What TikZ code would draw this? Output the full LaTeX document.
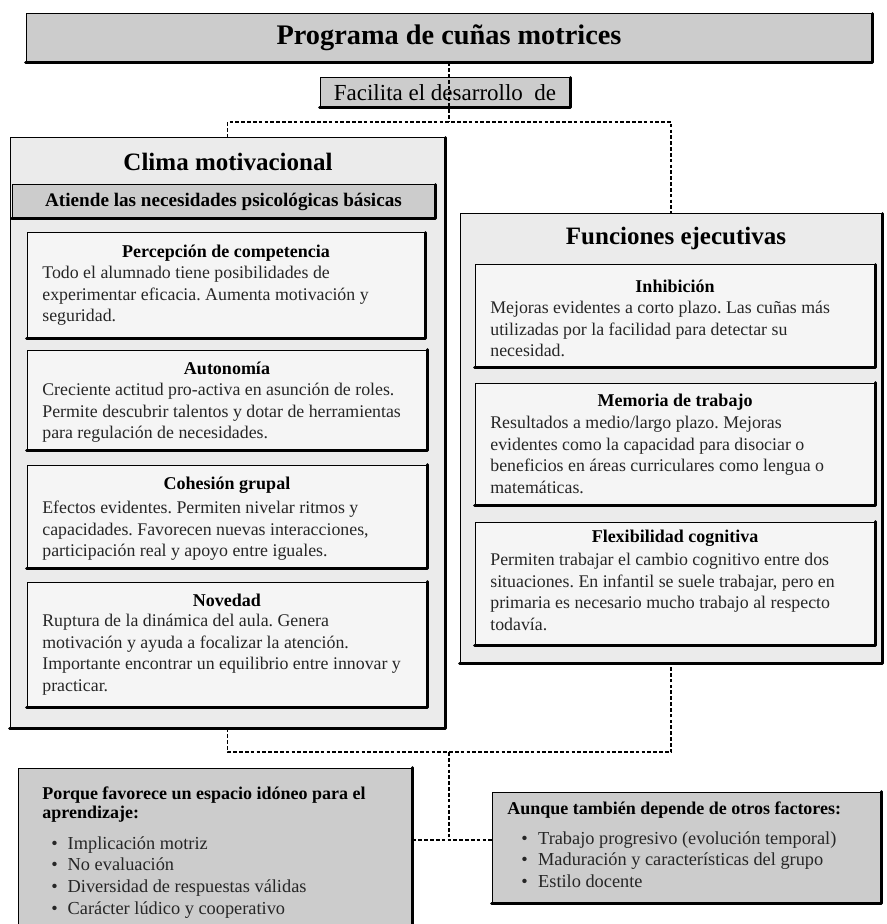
\documentclass[tikz,border=0pt]{standalone}
\usepackage{fontspec}
\setmainfont{Liberation Serif}
\frenchspacing
\usetikzlibrary{fit,positioning}

\newcommand{\bul}[1][6pt]{\textbullet\hspace{#1}}

\tikzset{
  box/.style={draw, line width=0.6pt, inner sep=0pt},
  darkbox/.style={box, fill=black!20},
  outerbox/.style={box, fill=black!8},
  innerbox/.style={box, fill=black!4},
  rim/.style={line width=1.7pt, line cap=round, line join=round},
  link/.style={draw, line width=0.8pt, dash pattern=on 2.2pt off 1.3pt},
  head/.style={font=\bfseries\fontsize{10.8}{13}\selectfont, inner sep=0pt},
  big/.style={font=\bfseries\fontsize{15}{18}\selectfont, inner sep=0pt},
  body/.style={font=\fontsize{10.7}{12.9}\selectfont, align=left, inner sep=0pt, anchor=north west, text=black!85},
}

\begin{document}
\begin{tikzpicture}[x=0.6pt,y=-0.6pt]
  \path[use as bounding box, fill=white] (0,0) rectangle (886,924);

  \node[darkbox, fit={(26,14) (872,62)}] (title) {};
  \node[font=\bfseries\fontsize{17}{20}\selectfont, inner sep=0pt] (titlet) at (title.center) {Programa de cuñas motrices};
  \node[darkbox, fit={(320,78) (570,107)}] (facil) {};
  \node[font=\fontsize{13.8}{16}\selectfont, inner sep=0pt] (facilt) at (facil.center) {Facilita el desarrollo~ de};

  % clima motivacional
  \node[outerbox, fit={(10,138) (445,728)}] (clima) {};
  \node[big] (climat) at (228,162) {Clima motivacional};
  \node[darkbox, fit={(12,185) (435,218)}] (atiende) {};
  \node[font=\bfseries\fontsize{11.5}{13}\selectfont, inner sep=0pt] (atiendet) at (atiende.center) {Atiende las necesidades psicológicas básicas};

  \node[innerbox, fit={(27,233) (425,338)}] (percep) {};
  \node[head] (percept) at (226,253) {Percepción de competencia};
  \node[body] (percepb) at (42,266) {Todo el alumnado tiene posibilidades de\\ experimentar eficacia. Aumenta motivación y\\ seguridad.};

  \node[innerbox, fit={(27,350) (427,450)}] (auton) {};
  \node[head] (autont) at (227,368) {Autonomía};
  \node[body] (autonb) at (42,383) {Creciente actitud pro-activa en asunción de roles.\\ Permite descubrir talentos y dotar de herramientas\\ para regulación de necesidades.};

  \node[innerbox, fit={(27,465) (427,568)}] (cohes) {};
  \node[head] (cohest) at (227,485) {Cohesión grupal};
  \node[body] (cohesb) at (42,501) {Efectos evidentes. Permiten nivelar ritmos y\\ capacidades. Favorecen nuevas interacciones,\\ participación real y apoyo entre iguales.};

  \node[innerbox, fit={(27,582) (427,707)}] (noved) {};
  \node[head] (novedt) at (227,600) {Novedad};
  \node[body] (novedb) at (42,614) {Ruptura de la dinámica del aula. Genera\\ motivación y ayuda a focalizar la atención.\\ Importante encontrar un equilibrio entre innovar y\\ practicar.};

  % funciones ejecutivas
  \node[outerbox, fit={(460,214) (882,663)}] (func) {};
  \node[big] (funct) at (676,238) {Funciones ejecutivas};

  \node[innerbox, fit={(475,265) (875,367)}] (inhib) {};
  \node[head] (inhibt) at (675,286) {Inhibición};
  \node[body] (inhibb) at (490,301) {Mejoras evidentes a corto plazo. Las cuñas más\\ utilizadas por la facilidad para detectar su\\ necesidad.};

  \node[innerbox, fit={(475,383) (875,505)}] (memo) {};
  \node[head] (memot) at (675,402) {Memoria de trabajo};
  \node[body] (memob) at (490,416) {Resultados a medio/largo plazo. Mejoras\\ evidentes como la capacidad para disociar o\\ beneficios en áreas curriculares como lengua o\\ matemáticas.};

  \node[innerbox, fit={(475,522) (875,645)}] (flex) {};
  \node[head] (flext) at (675,538) {Flexibilidad cognitiva};
  \node[body] (flexb) at (490,553) {Permiten trabajar el cambio cognitivo entre dos\\ situaciones. En infantil se suele trabajar, pero en\\ primaria es necesario mucho trabajo al respecto\\ todavía.};

  % cajas de abajo
  \node[darkbox, fit={(18,768) (412,940)}] (porque) {};
  \node[body, font=\bfseries\fontsize{10.8}{11.4}\selectfont, text=black] (porquet) at (42,786) {Porque favorece un espacio idóneo para el\\ aprendizaje:};
  \node[body, font=\fontsize{11}{13}\selectfont] (porqueb) at (51,836) {\bul Implicación motriz\\ \bul No evaluación\\ \bul Diversidad de respuestas válidas\\ \bul Carácter lúdico y cooperativo};

  \node[darkbox, fit={(492,792) (881,903)}] (aunque) {};
  \node[body, font=\bfseries\fontsize{10.8}{13}\selectfont, text=black] (aunquet) at (507,801) {Aunque también depende de otros factores:};
  \node[body, font=\fontsize{11}{13}\selectfont] (aunqueb) at (521,831) {\bul[3.5pt] Trabajo progresivo (evolución temporal)\\ \bul[3.5pt] Maduración y características del grupo\\ \bul[3.5pt] Estilo docente};

  \foreach \n in {title,facil,clima,atiende,percep,auton,cohes,noved,func,inhib,memo,flex,porque,aunque}
    \draw[rim] (\n.north east) -- (\n.south east) -- (\n.south west);

  % conectores
  \coordinate (jt) at (449,122);
  \coordinate (jb) at (449,752);
  \coordinate (jc) at (449,840);
  \draw[link] (title.south) -- (jt);
  \draw[link] (clima.north) |- (jt) -| (func.north);
  \draw[link] (clima.south) |- (jb) -| (func.south);
  \draw[link] (jb) -- (jc);
  \draw[link] (porque.east |- jc) -- (aunque.west |- jc);
\end{tikzpicture}
\end{document}
